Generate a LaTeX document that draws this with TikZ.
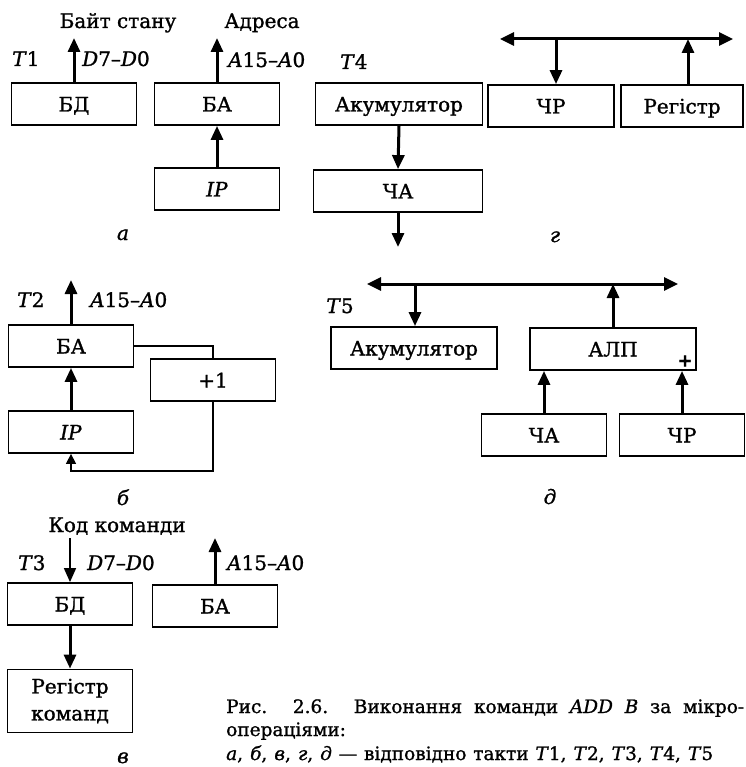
\documentclass[tikz,border=0pt]{standalone}
\usepackage{fontspec}
\setmainfont{DejaVu Serif}[FakeBold=1.2]
\usepackage{tikz}
\usetikzlibrary{arrows.meta, positioning, calc}
\newcommand{\boxfont}{\fontsize{20}{27}\selectfont}
\newcommand{\capfont}{\fontsize{18.5}{23}\selectfont}

\begin{document}
\begin{tikzpicture}[x=1pt, y=-1pt,
  blkbase/.style={draw, line width=1.8pt, minimum width=125pt, minimum height=42pt, inner sep=0pt, font=\boxfont},
  blk/.style={blkbase, text height=15pt, text depth=0pt},
  lbl/.style={inner sep=0pt, font=\boxfont},
  captxt/.style={inner sep=0pt, font=\capfont},
  arr/.style={line width=3pt, -{Triangle[length=14pt, width=12pt]}},
  busarr/.style={line width=3pt, {Triangle[length=14pt, width=13pt]}-{Triangle[length=14pt, width=13pt]}},
  thinarr/.style={line width=1.6pt, -{Triangle[length=14pt, width=12pt]}},
  fb/.style={line width=1.4pt},
  fbarr/.style={line width=1.4pt, -{Triangle[length=10pt, width=10pt]}}]
  \useasboundingbox (0, 0) rectangle (745, 767);

  % a: T1
  \node[blk] (bd1) at (74, 104) {БД};
  \node[blk] (ba1) at (217, 104) {БА};
  \node[blk] (ip1) at (217, 189) {\textit{IP}};
  \coordinate (bd1out) at (74, 38);
  \coordinate (ba1out) at (217, 38);
  \draw[arr] (bd1.north) -- (bd1out);
  \draw[arr] (ba1.north) -- (ba1out);
  \draw[arr] (ip1.north) -- (ba1.south);
  \node[lbl, anchor=base] (stat) at (118, 28) {Байт стану};
  \node[lbl, anchor=base] (adr) at (262, 28) {Адреса};
  \node[lbl, anchor=base west] (t1) at (12, 66) {\textit{T}1};
  \node[lbl, anchor=base west] (dbus1) at (82, 66) {\textit{D}7\textendash\textit{D}0};
  \node[lbl, anchor=base west] (abus1) at (228, 67) {\textit{A}15\textendash\textit{A}0};
  \node[lbl, anchor=base] (lbla) at (123, 240) {\textit{а}};

  % g: T4
  \node[lbl, anchor=base west] (t4) at (340, 69) {\textit{T}4};
  \node[blk, minimum width=167pt] (acc4) at (399, 104) {Акумулятор};
  \node[blk, minimum width=169pt] (cha4) at (398, 191) {ЧА};
  \coordinate (cha4out) at (398, 247);
  \draw[arr] (acc4.south) -- (cha4.north);
  \draw[arr] (cha4.south) -- (cha4out);
  \node[blk, minimum width=126pt] (chr4) at (551, 106) {ЧР};
  \node[blk, minimum width=122pt] (reg4) at (682, 106) {Регістр};
  \coordinate (bus4l) at (500, 39);
  \coordinate (bus4r) at (733, 39);
  \coordinate (tap4a) at (556, 39);
  \coordinate (tap4b) at (688, 39);
  \draw[busarr] (bus4l) -- (bus4r);
  \draw[arr] (tap4a) -- (tap4a |- chr4.north);
  \draw[arr] (tap4b |- reg4.north) -- (tap4b);
  \node[lbl, anchor=base] (lblg) at (555, 242) {\textit{г}};

  % b: T2
  \node[blk] (ba2) at (71, 346) {БА};
  \node[blk] (inc2) at (213, 380) {+1};
  \node[blk] (ip2) at (71, 432) {\textit{IP}};
  \coordinate (ba2out) at (71, 280);
  \coordinate (loop2) at (71, 471);
  \draw[arr] (ba2.north) -- (ba2out);
  \draw[arr] (ip2.north) -- (ba2.south);
  \draw[fb] (ba2.east) -| (inc2.north);
  \draw[fbarr] (inc2.south) |- (loop2) -- (ip2.south);
  \node[lbl, anchor=base west] (t2) at (17, 307) {\textit{T}2};
  \node[lbl, anchor=base west] (abus2) at (90, 307) {\textit{A}15\textendash\textit{A}0};
  \node[lbl, anchor=base] (lblb) at (123, 505) {\textit{б}};

  % d: T5
  \coordinate (bus5l) at (367, 284);
  \coordinate (bus5r) at (678, 284);
  \coordinate (tap5a) at (415, 284);
  \coordinate (tap5b) at (613, 284);
  \node[lbl, anchor=base] (t5) at (340, 313) {\textit{T}5};
  \node[blk, minimum width=166pt] (acc5) at (414, 348) {Акумулятор};
  \node[blk, minimum width=166pt] (alu5) at (613, 349) {АЛП};
  \node[lbl, font=\fontsize{18}{20}\selectfont\bfseries] (plus5) at (685, 361) {+};
  \node[blk] (cha5) at (544, 435) {ЧА};
  \node[blk] (chr5) at (682, 435) {ЧР};
  \draw[busarr] (bus5l) -- (bus5r);
  \draw[arr] (tap5a) -- (tap5a |- acc5.north);
  \draw[arr] (tap5b |- alu5.north) -- (tap5b);
  \draw[arr] (cha5.north) -- (cha5.north |- alu5.south);
  \draw[arr] (chr5.north) -- (chr5.north |- alu5.south);
  \node[lbl, anchor=base] (lbld) at (550, 504) {\textit{д}};

  % v: T3
  \node[lbl, anchor=base] (code3) at (117, 532) {Код команди};
  \coordinate (bd3in) at (70, 538);
  \coordinate (ba3out) at (215, 538);
  \node[blk] (bd3) at (70, 604) {БД};
  \node[blk] (ba3) at (215, 606) {БА};
  \node[blkbase, minimum height=63pt, align=center] (ir3) at (70, 701) {Регістр\\команд};
  \draw[thinarr] (bd3in) -- (bd3.north);
  \draw[arr] (ba3.north) -- (ba3out);
  \draw[arr] (bd3.south) -- (ir3.north);
  \node[lbl, anchor=base west] (t3) at (18, 570) {\textit{T}3};
  \node[lbl, anchor=base west] (dbus3) at (87, 570) {\textit{D}7\textendash\textit{D}0};
  \node[lbl, anchor=base west] (abus3) at (227, 570) {\textit{A}15\textendash\textit{A}0};
  \node[lbl, anchor=base] (lblv) at (123, 763) {\textit{в}};

  % Caption
  \node[captxt, anchor=base west] (cap1) at (226, 713) {\makebox[518pt][s]{Рис. 2.6. Виконання команди \textit{ADD B} за мікро-}};
  \node[captxt, anchor=base west] (cap2) at (226, 736) {операціями:};
  \node[captxt, anchor=base west] (cap3) at (226, 760) {\makebox[487pt][s]{\textit{а}, \textit{б}, \textit{в}, \textit{г}, \textit{д} \textemdash{} відповідно такти \textit{T}1, \textit{T}2, \textit{T}3, \textit{T}4, \textit{T}5}};
\end{tikzpicture}
\end{document}
